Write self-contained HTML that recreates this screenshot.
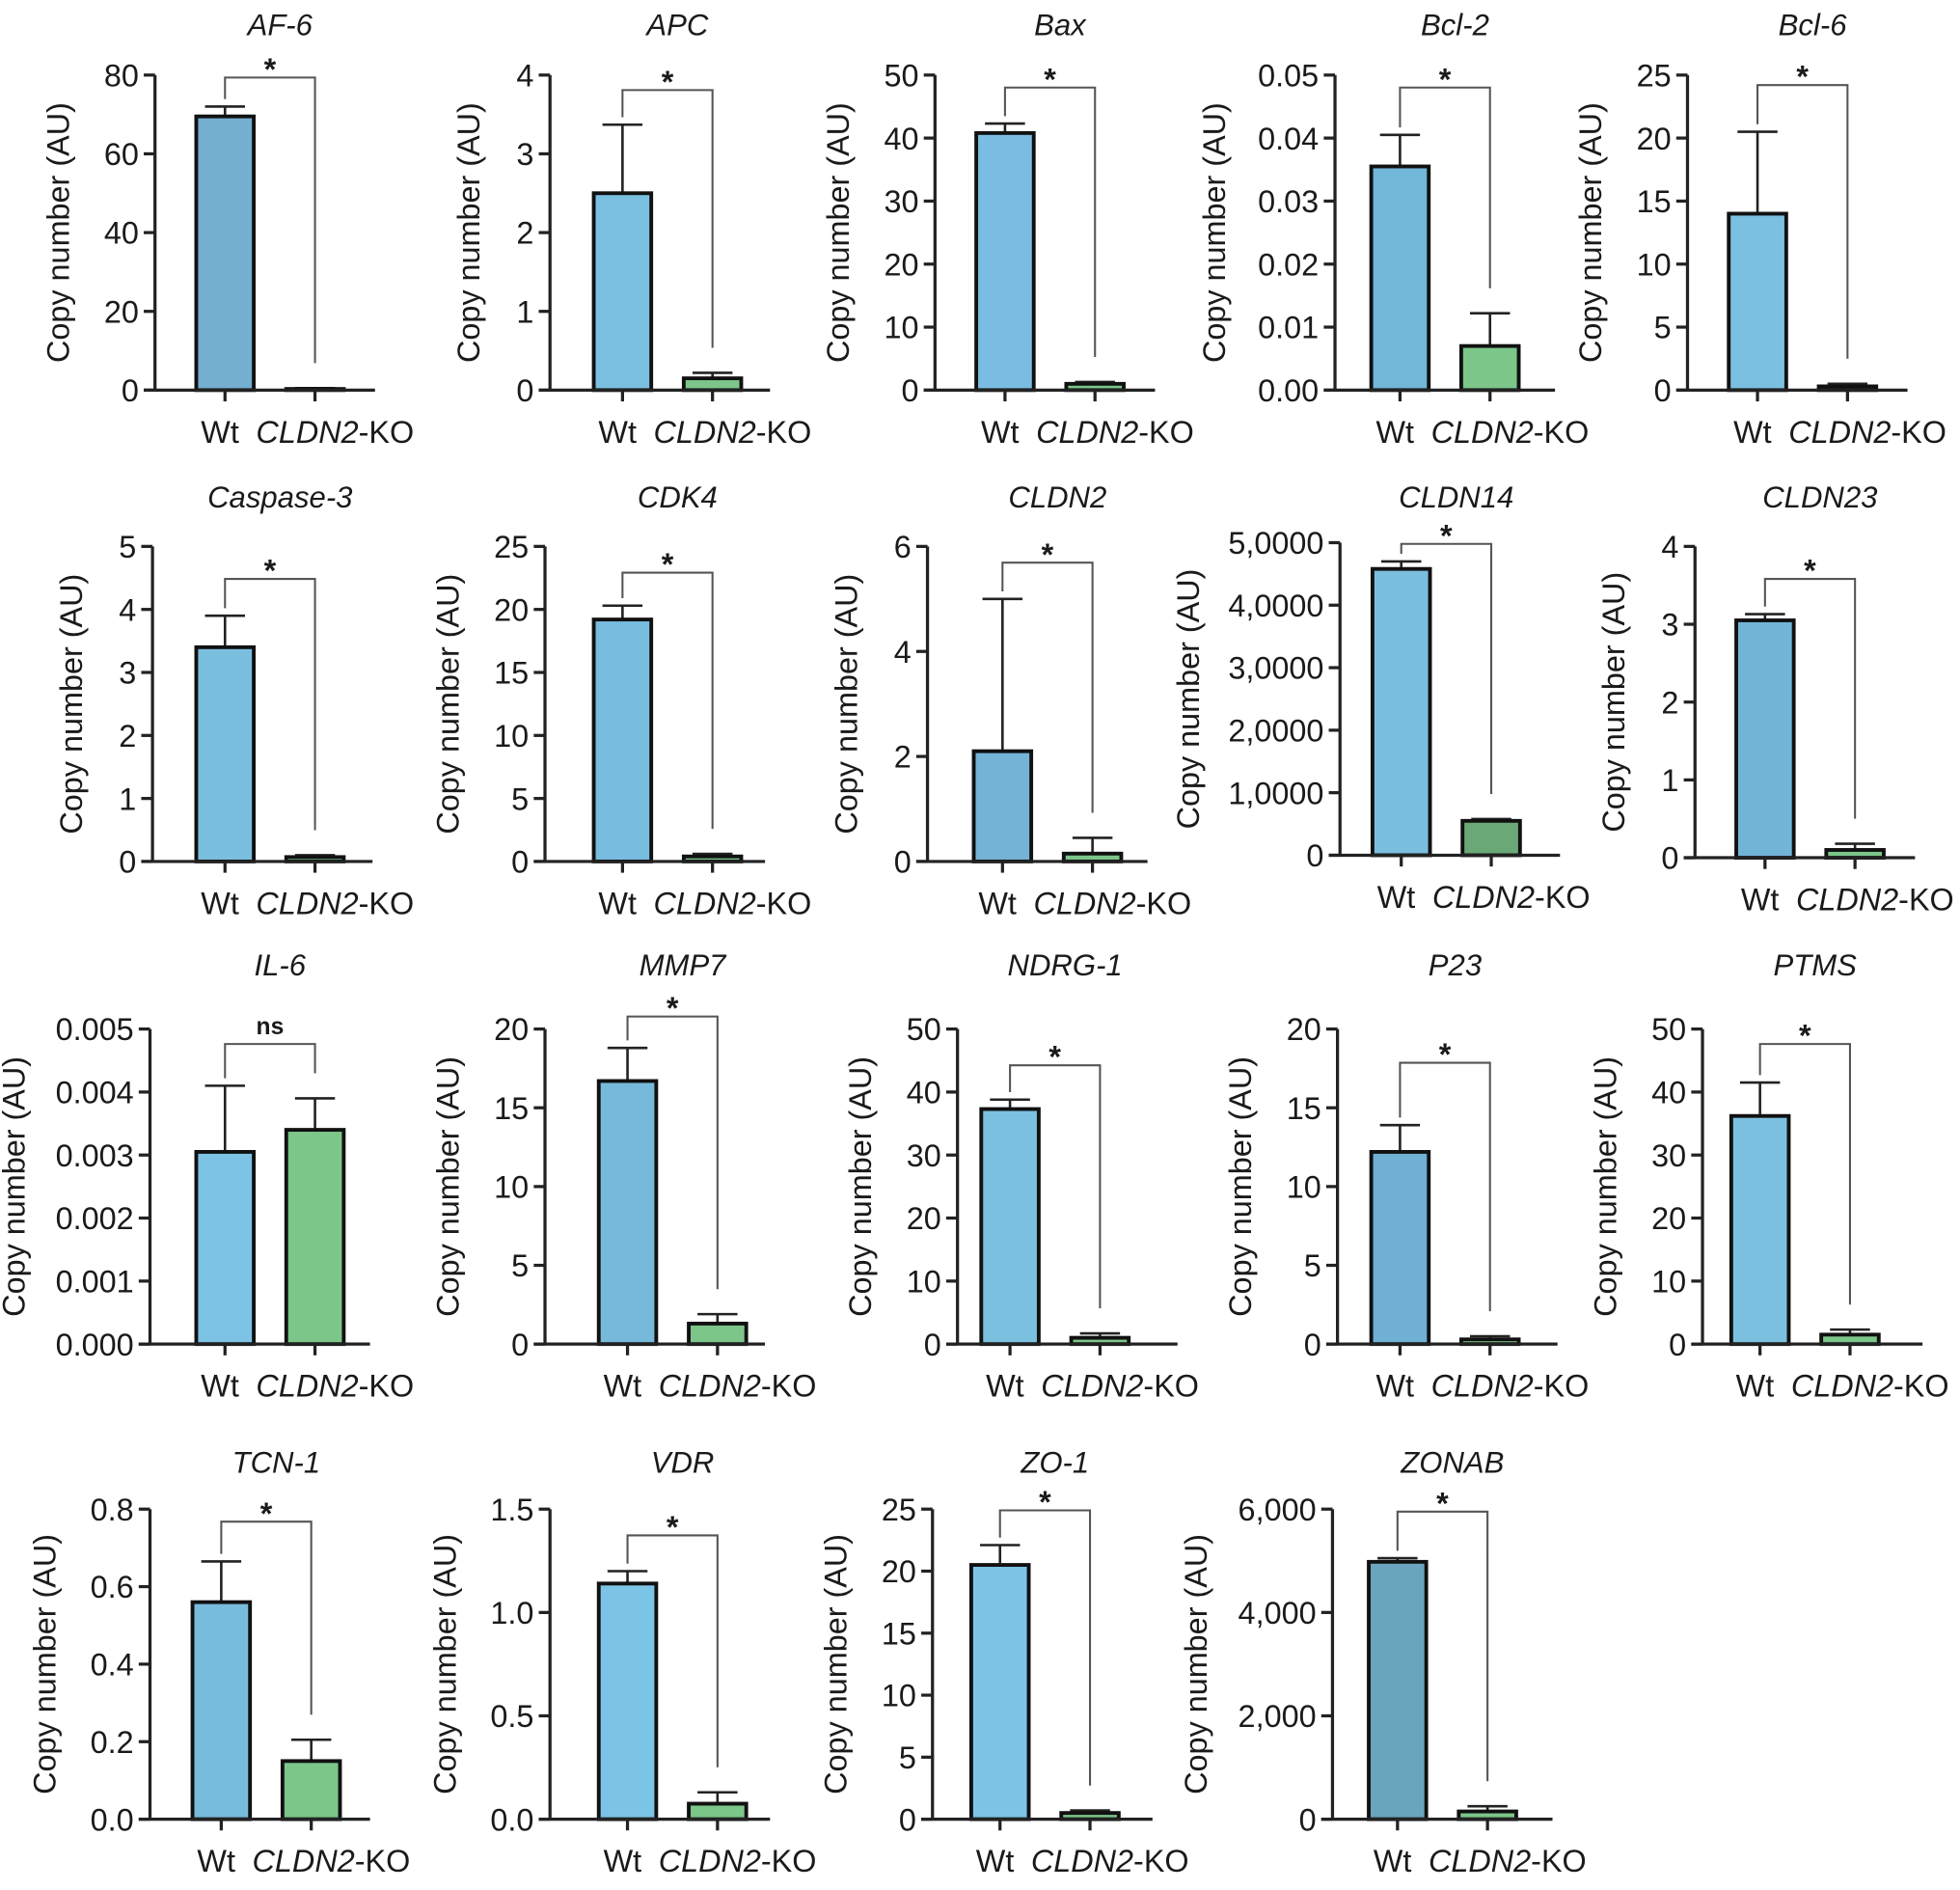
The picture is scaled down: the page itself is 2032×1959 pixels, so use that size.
<!DOCTYPE html>
<html><head><meta charset="utf-8"><style>
html,body{margin:0;padding:0;background:#fff}
svg{display:block}
text{font-family:"Liberation Sans",Arial,sans-serif;fill:#1a1a1a}
</style></head><body>
<svg id="fig" width="2032" height="1959" viewBox="0 0 1568 1511.6" xmlns="http://www.w3.org/2000/svg"></svg>
<script>
const titles=["AF-6","APC","Bax","Bcl-2","Bcl-6","Caspase-3","CDK4","CLDN2","CLDN14","CLDN23","IL-6","MMP7","NDRG-1","P23","PTMS","TCN-1","VDR","ZO-1","ZONAB"];
const yMax=[80,4,50,0.05,25,5,25,6,50000,4,0.005,20,50,20,50,0.8,1.5,25,6000];
const tickValues=[[0,20,40,60,80],[0,1,2,3,4],[0,10,20,30,40,50],[0,0.01,0.02,0.03,0.04,0.05],[0,5,10,15,20,25],[0,1,2,3,4,5],[0,5,10,15,20,25],[0,2,4,6],[0,10000,20000,30000,40000,50000],[0,1,2,3,4],[0,0.001,0.002,0.003,0.004,0.005],[0,5,10,15,20],[0,10,20,30,40,50],[0,5,10,15,20],[0,10,20,30,40,50],[0,0.2,0.4,0.6,0.8],[0,0.5,1.0,1.5],[0,5,10,15,20,25],[0,2000,4000,6000]];
const tickLabels=[["0","20","40","60","80"],["0","1","2","3","4"],["0","10","20","30","40","50"],["0.00","0.01","0.02","0.03","0.04","0.05"],["0","5","10","15","20","25"],["0","1","2","3","4","5"],["0","5","10","15","20","25"],["0","2","4","6"],["0","1,0000","2,0000","3,0000","4,0000","5,0000"],["0","1","2","3","4"],["0.000","0.001","0.002","0.003","0.004","0.005"],["0","5","10","15","20"],["0","10","20","30","40","50"],["0","5","10","15","20"],["0","10","20","30","40","50"],["0.0","0.2","0.4","0.6","0.8"],["0.0","0.5","1.0","1.5"],["0","5","10","15","20","25"],["0","2,000","4,000","6,000"]];
const wtValues=[69.5,2.5,40.8,0.0355,14,3.4,19.2,2.1,45800,3.05,0.00305,16.7,37.3,12.2,36.2,0.56,1.14,20.5,4980];
const wtErrTop=[72,3.37,42.3,0.0405,20.5,3.9,20.3,5.0,47000,3.13,0.0041,18.8,38.8,13.9,41.5,0.665,1.2,22.1,5050];
const koValues=[0.3,0.15,1,0.007,0.3,0.07,0.4,0.15,5500,0.1,0.0034,1.3,1,0.3,1.5,0.15,0.075,0.5,150];
const koErrTop=[0.5,0.22,1.3,0.0122,0.5,0.1,0.6,0.45,5800,0.18,0.0039,1.9,1.7,0.5,2.3,0.205,0.13,0.7,250];
const sigLabels=["*","*","*","*","*","*","*","*","*","*","ns","*","*","*","*","*","*","*","*"];
// layout (display units)
const axisX=[124,440,748,1068,1350,122,436,742,1072,1356,120,436,766,1070,1362,120,440,746,1066];
const wtX=[180,498,804,1120,1406,180,498,802,1121,1412,180,502,808,1120,1408,177,502,800,1118];
const bracketY=[62,72,70,70,68,463,458,450,435,463,835,813,852,850,835,1217,1228,1208,1209];
const rowBase=[312,689,1075,1455],rowTop=[60,437,823,1207],rowTitle=[28,406,780,1178];
const baseAdj={8:-5,9:-3};const topAdj={8:-3};
const wtCol=["#74afd0","#7bc0e0","#7bbde2","#72b6d8","#7bc0e0","#7bbfdf","#78bde0","#74b3d6","#7bbfde","#72b4d6","#7cc3e6","#76b9db","#7cc0e0","#6fb0d4","#7cc0e0","#78bcdd","#7cc4e6","#7cc3e6","#6aa5bd"];
const koCol=i=>i==8?"#6aa878":"#7cc68a";
const NS="http://www.w3.org/2000/svg",svg=document.getElementById('fig');
function mk(t,a,p){const e=document.createElementNS(NS,t);for(const k in a)e.setAttribute(k,a[k]);(p||svg).appendChild(e);return e;}
titles.forEach((t,i)=>{
  const r=Math.floor(i/5);
  const g=mk('g',{});
  
  
  const base=rowBase[r]+(baseAdj[i]||0),top=rowTop[r]+(topAdj[i]||0);
  const ax=axisX[i],wx=wtX[i],kx=wx+72,bw=46;
  const y=v=>base-(v/yMax[i])*(base-top);
  const tt=mk('text',{x:(wx+kx)/2+8,y:rowTitle[r],'text-anchor':'middle','font-size':24,'font-style':'italic'},g);tt.textContent=t;
  
  const bars=[[wx,wtValues[i],wtErrTop[i],wtCol[i],'bar-wt'],[kx,koValues[i],koErrTop[i],koCol(i),'bar-ko']];
  bars.forEach(b=>{
    const et=y(b[2]),bt=y(b[1]);
    const el=mk('line',{x1:b[0],x2:b[0],y1:bt,y2:et,stroke:'#222','stroke-width':2},g);
    
    const ec=mk('line',{x1:b[0]-16,x2:b[0]+16,y1:et,y2:et,stroke:'#222','stroke-width':2},g);
    
    const rc=mk('rect',{x:b[0]-bw/2,y:bt,width:bw,height:Math.max(base-bt,0.5),fill:b[3],stroke:'#111','stroke-width':3},g);
    
  });
  const ya=mk('line',{x1:ax,x2:ax,y1:top,y2:base,stroke:'#222','stroke-width':2.5},g);
  
  const xa=mk('line',{x1:ax-9,x2:ax+176,y1:base,y2:base,stroke:'#222','stroke-width':2.5},g);
  
  tickValues[i].forEach((v,j)=>{
    const ty=y(v);
    mk('line',{x1:ax-9,x2:ax,y1:ty,y2:ty,stroke:'#222','stroke-width':2.5},g);
    const tl=mk('text',{x:ax-13,y:ty+9,'text-anchor':'end','font-size':25},g);tl.textContent=tickLabels[i][j];
    
  });
  [wx,kx].forEach(x=>mk('line',{x1:x,x2:x,y1:base,y2:base+9,stroke:'#222','stroke-width':2.5},g));
  const longest=tickLabels[i].reduce((a,s)=>s.length>a.length?s:a,'');
  const off=44+longest.length*12.5-(/[.,]/.test(longest)?6:0);
  const tx=ax-off,tcy=(top+base)/2;
  const yt=mk('text',{x:tx,y:tcy,'text-anchor':'middle','font-size':25,transform:`rotate(-90 ${tx} ${tcy})`},g);yt.textContent='Copy number (AU)';
  
  const w=mk('text',{x:wx-4,y:base+42,'text-anchor':'middle','font-size':25},g);w.textContent='Wt';
  
  const k=mk('text',{x:kx+16,y:base+42,'text-anchor':'middle','font-size':25},g);
  
  const s1=mk('tspan',{'font-style':'italic'},k);s1.textContent='CLDN2';const s2=mk('tspan',{},k);s2.textContent='-KO';
  const by=bracketY[i];
  const wl=y(wtErrTop[i])-6,kl=Math.max(by+10,y(koErrTop[i])-20);
  const br=mk('path',{d:`M${wx},${Math.max(wl,by+4)} V${by} H${kx} V${kl}`,fill:'none',stroke:'#555','stroke-width':1.6},g);
  
  const st=mk('text',{x:(wx+kx)/2,y:sigLabels[i]=='ns'?by-8:by+2,'text-anchor':'middle','font-size':sigLabels[i]=='ns'?19:25,'font-weight':'bold'},g);st.textContent=sigLabels[i];
  
});
</script>
</body></html>
